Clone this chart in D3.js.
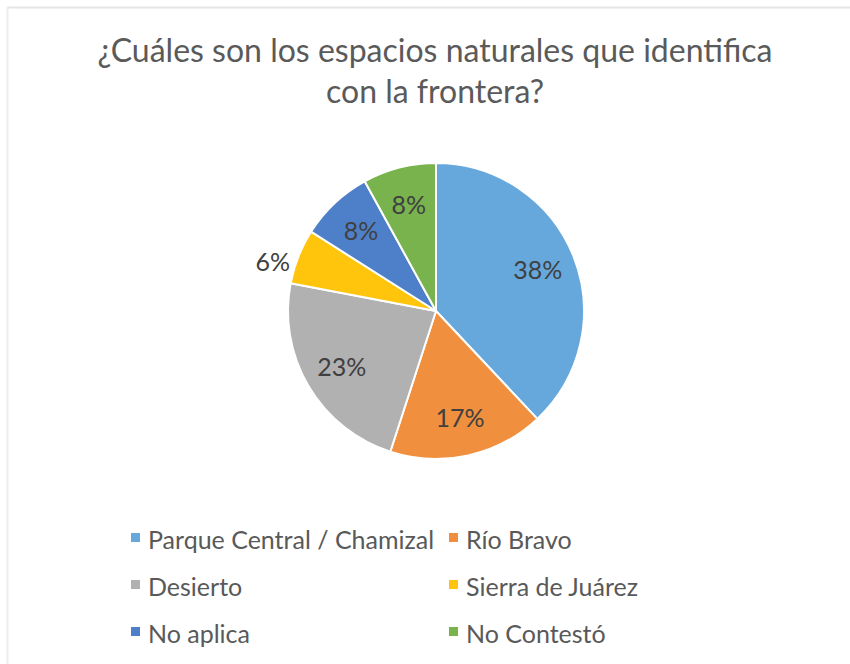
<!DOCTYPE html>
<html>
<head>
<meta charset="utf-8">
<script src="https://cdn.jsdelivr.net/npm/d3@7/dist/d3.min.js"></script>
<style>
  html, body { margin: 0; padding: 0; background: #fff; }
  svg { display: block; }
  text { font-family: Lato, "Open Sans", sans-serif; }
</style>
</head>
<body>
<svg id="chart" width="850" height="664"></svg>
<script>
// Survey answers and their shares (percent)
const categories = [
  "Parque Central / Chamizal",
  "Río Bravo",
  "Desierto",
  "Sierra de Juárez",
  "No aplica",
  "No Contestó"
];
const values = [38, 17, 23, 6, 8, 8];
const colors = ["#67a8dc", "#f08f3d", "#b1b1b1", "#ffc40c", "#4e80ca", "#78b34e"];
const titleLines = ["¿Cuáles son los espacios naturales que identifica", "con la frontera?"];

const data = categories.map((c, i) => ({ name: c, value: values[i], color: colors[i] }));

const W = 850, H = 664;
const svg = d3.select("#chart");

// Chart area frame
svg.append("line").attr("x1", 7).attr("x2", W).attr("y1", 7.5).attr("y2", 7.5)
  .attr("stroke", "#e6e6e6").attr("stroke-width", 2);
svg.append("line").attr("x1", 7.5).attr("x2", 7.5).attr("y1", 7).attr("y2", H)
  .attr("stroke", "#eeeeee").attr("stroke-width", 2);

// Title
svg.append("g").selectAll("text").data(titleLines).join("text")
  .attr("x", 435)
  .attr("y", (d, i) => 62 + i * 41)
  .attr("text-anchor", "middle")
  .attr("fill", "#5a5a5a")
  .attr("font-size", 32)
  .text(d => d);

// Pie
const cx = 436, cy = 311, R = 148;
const pie = d3.pie().value(d => d.value).sort(null);
const arcs = pie(data);
const arc = d3.arc().innerRadius(0).outerRadius(R);
const labelArc = d3.arc().innerRadius(R * 0.74).outerRadius(R * 0.74);

const g = svg.append("g").attr("transform", `translate(${cx},${cy})`);
g.selectAll("path").data(arcs).join("path")
  .attr("d", arc)
  .attr("fill", d => d.data.color)
  .attr("stroke", "#fff")
  .attr("stroke-width", 2)
  .attr("stroke-linejoin", "round");

// Percentage labels: inside for larger slices, outside for the small one
const fmt = v => v + "%";
g.selectAll("text.lbl").data(arcs).join("text")
  .attr("class", "lbl")
  .each(function (d) {
    const t = d3.select(this);
    if (d.data.value < 7) {
      const mid = (d.startAngle + d.endAngle) / 2;
      const r = R + 9;
      t.attr("x", Math.sin(mid) * r)
       .attr("y", -Math.cos(mid) * r + 9)
       .attr("text-anchor", "end");
    } else {
      const [x, y] = labelArc.centroid(d);
      t.attr("x", x).attr("y", y).attr("text-anchor", "middle");
    }
  })
  .attr("dy", "0.35em")
  .attr("fill", "#404040")
  .attr("font-size", 25)
  .text(d => fmt(d.data.value));

// Legend: two columns, three rows
const legend = svg.append("g");
const colX = [131, 449];
const rowY = [541, 588, 635];
const items = legend.selectAll("g").data(data).join("g")
  .attr("transform", (d, i) => `translate(${colX[i % 2]},${rowY[Math.floor(i / 2)]})`);
items.append("rect")
  .attr("x", 0).attr("y", -8).attr("width", 9).attr("height", 9)
  .attr("fill", d => d.color);
items.append("text")
  .attr("x", 17).attr("y", 0)
  .attr("dy", "0.32em")
  .attr("fill", "#595959")
  .attr("font-size", 25)
  .text(d => d.name);
</script>
</body>
</html>
